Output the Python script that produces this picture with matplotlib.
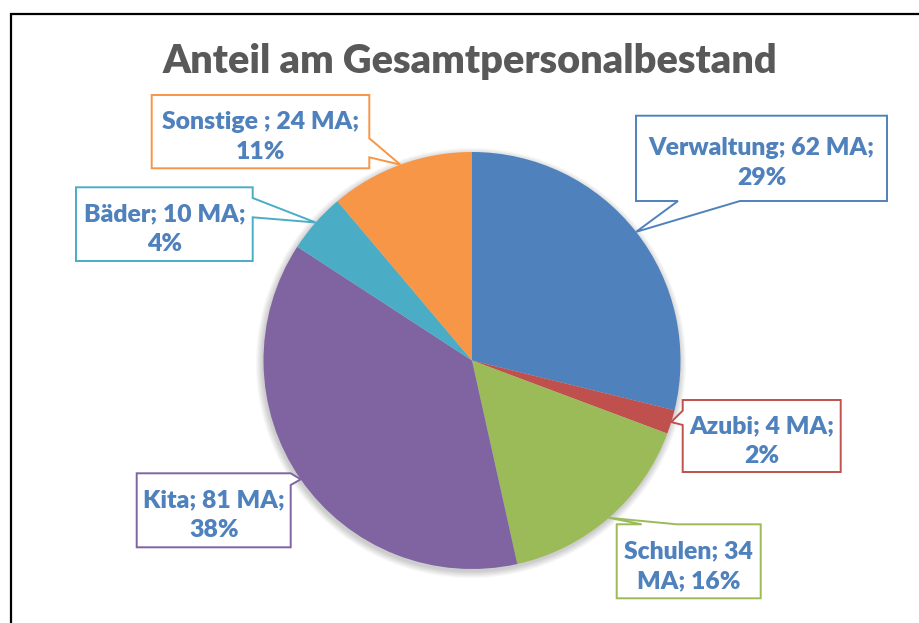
import matplotlib
matplotlib.use("Agg")
import matplotlib.pyplot as plt
from matplotlib.patches import Polygon, Rectangle, Circle
import numpy as np

plt.rcParams['font.family'] = ['Lato', 'DejaVu Sans']

# ---- data ----
categories = ["Verwaltung", "Azubi", "Schulen", "Kita", "Bäder", "Sonstige "]
values = [62, 4, 34, 81, 10, 24]
percent_labels = ["29%", "2%", "16%", "38%", "4%", "11%"]
colors = ["#4F81BD", "#C0504D", "#9BBB59", "#8064A2", "#4BACC6", "#F79646"]
words_first_line = [3, 3, 2, 3, 3, 4]
title = "Anteil am Gesamtpersonalbestand"

W, H = 919, 623
fig = plt.figure(figsize=(W / 100, H / 100), dpi=100)
ax = fig.add_axes([0, 0, 1, 1])

def Y(y):
    return H - y

cx, cy, R = 472, 360.5, 208.5

# soft shadow
for i in range(10):
    ax.add_patch(Circle((cx - 1.0, Y(cy) - 2.5), R + 0.4 + i * 0.7,
                        facecolor='black', edgecolor='none', alpha=0.018, zorder=2))

wedges, _ = ax.pie(values, colors=colors, startangle=90, counterclock=False,
                   center=(cx, Y(cy)), radius=R, frame=True,
                   wedgeprops=dict(linewidth=0, zorder=3))
ax.set_xlim(0, W)
ax.set_ylim(0, H)
ax.set_aspect('equal')
ax.axis('off')

# outer chart border
ax.add_patch(Rectangle((10.5, Y(700)), 1000, 700 - 13.5, fill=False,
                       edgecolor='black', linewidth=1.6, zorder=1))

total = sum(values)
cum = np.cumsum([0] + values)
mid_angles = [(cum[i] + values[i] / 2) / total * 2 * np.pi for i in range(len(values))]

# callout layout (pixel coords): box (left, top, right, bottom), side, base (a, b)
boxes = [
    ((636, 115.7, 887, 201), 'bottom', (740, 678)),
    ((682.7, 400, 840.7, 472), 'left', (410.7, 425)),
    ((616.7, 524.3, 760.7, 598.3), 'top', (641.7, 676.7)),
    ((136.7, 473.3, 290.7, 547.3), 'right', (473.3, 485)),
    ((76, 187.3, 252.7, 261), 'right', (198, 217.3)),
    ((151.7, 95, 369.3, 168.3), 'right', (138.3, 157.3)),
]

def callout_poly(box, side, base, tip):
    l, t, r, b = box
    a1, a2 = base
    if side == 'bottom':
        pts = [(l, t), (r, t), (r, b), (a1, b), tip, (a2, b), (l, b)]
    elif side == 'top':
        pts = [(l, t), (a1, t), tip, (a2, t), (r, t), (r, b), (l, b)]
    elif side == 'left':
        pts = [(l, t), (r, t), (r, b), (l, b), (l, a2), tip, (l, a1)]
    else:
        pts = [(l, t), (r, t), (r, a1), tip, (r, a2), (r, b), (l, b)]
    return [(x, Y(y)) for x, y in pts]

for i, (box, side, base) in enumerate(boxes):
    ang = mid_angles[i]
    tip = (cx + R * np.sin(ang), cy - R * np.cos(ang))
    poly = Polygon(callout_poly(box, side, base, tip), closed=True,
                   facecolor='white', edgecolor=colors[i], linewidth=1.4, zorder=5)
    ax.add_patch(poly)
    full = f"{categories[i]}; {values[i]} MA; {percent_labels[i]}"
    words = full.split(" ")
    n = words_first_line[i]
    text = " ".join(words[:n]) + "\n" + " ".join(words[n:])
    l, t, r, b = box
    ax.text((l + r) / 2, Y((t + b) / 2 + 5), text, ha='center', va='center',
            fontsize=17.8, fontweight='heavy', color='#4F81BD', linespacing=1.45,
            zorder=6)

ax.text(470, Y(73), title, ha='center', va='baseline', fontsize=28.5,
        fontweight='heavy', color='#595959', zorder=6)

fig.savefig("out.png", dpi=100, facecolor='white')
